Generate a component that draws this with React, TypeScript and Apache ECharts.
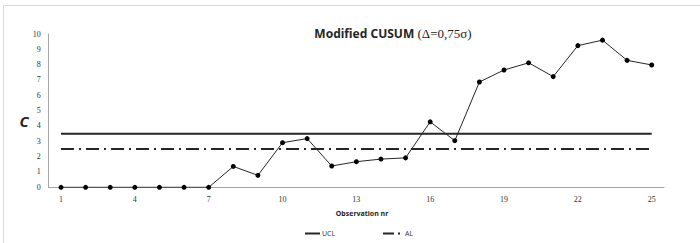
import React, { useEffect, useRef } from "react";
import * as echarts from "echarts";

const observations: string[] = Array.from({ length: 25 }, (_, i) => String(i + 1));
const cusumValues: number[] = [
  0, 0, 0, 0, 0, 0, 0, 1.36, 0.78, 2.91, 3.18, 1.39, 1.67, 1.84, 1.92,
  4.27, 3.04, 6.87, 7.65, 8.12, 7.22, 9.24, 9.6, 8.28, 7.98,
];
const uclValue = 3.5;
const alValue = 2.5;
const yTicks = { min: 0, max: 10, interval: 1 };
const legendNames = ["UCL", "AL"];

export default function App() {
  const ref = useRef<HTMLDivElement>(null);
  useEffect(() => {
    if (!ref.current) return;
    const chart = echarts.init(ref.current, undefined, { renderer: "svg" });
    const serif = "'Liberation Serif', 'DejaVu Serif', serif";
    const sans = "'Noto Sans', 'Liberation Sans', sans-serif";
    const legendY = 233.5;
    chart.setOption({
      animation: false,
      backgroundColor: "#ffffff",
      grid: { left: 48.7, right: 36, top: 34, bottom: 55.7, containLabel: false },
      xAxis: {
        type: "category",
        data: observations,
        boundaryGap: true,
        axisLine: { show: true, lineStyle: { color: "#a6a6a6", width: 1 } },
        axisTick: { show: false },
        axisLabel: {
          interval: 2,
          margin: 8,
          fontFamily: serif,
          fontSize: 8,
          color: "#333333",
        },
        splitLine: { show: false },
      },
      yAxis: {
        type: "value",
        min: yTicks.min,
        max: yTicks.max,
        interval: yTicks.interval,
        axisLine: { show: true, lineStyle: { color: "#a6a6a6", width: 1 } },
        axisTick: { show: false },
        axisLabel: { margin: 8, fontFamily: serif, fontSize: 8, color: "#333333" },
        splitLine: { show: false },
      },
      graphic: [
        {
          type: "rect",
          shape: { x: 3.5, y: 5.5, width: 720, height: 260 },
          style: { fill: "none", stroke: "#d9d9d9", lineWidth: 1 },
          silent: true,
        },
        {
          type: "text",
          x: 393,
          y: 33,
          style: {
            text: "{b|Modified CUSUM} {s|(Δ=0,75σ)}",
            align: "center",
            verticalAlign: "middle",
            rich: {
              b: { fontFamily: sans, fontWeight: "bold", fontSize: 12, fill: "#262626" },
              s: { fontFamily: serif, fontSize: 13, fill: "#262626" },
            },
          },
        },
        {
          type: "text",
          x: 24,
          y: 121,
          style: {
            text: "C",
            align: "center",
            verticalAlign: "middle",
            fontFamily: sans,
            fontWeight: "bold",
            fontStyle: "italic",
            fontSize: 15,
            fill: "#262626",
          },
        },
        {
          type: "text",
          x: 362,
          y: 213,
          style: {
            text: "Observation nr",
            align: "center",
            verticalAlign: "middle",
            fontFamily: sans,
            fontWeight: "bold",
            fontSize: 7,
            fill: "#262626",
          },
        },
        {
          type: "line",
          shape: { x1: 305, y1: legendY, x2: 320, y2: legendY },
          style: { stroke: "#262626", lineWidth: 2 },
        },
        {
          type: "text",
          x: 322,
          y: legendY,
          style: {
            text: legendNames[0],
            verticalAlign: "middle",
            fontFamily: sans,
            fontSize: 7,
            fill: "#404040",
          },
        },
        {
          type: "line",
          shape: { x1: 383, y1: legendY, x2: 400, y2: legendY },
          style: { stroke: "#262626", lineWidth: 2, lineDash: [11, 4, 2, 20] },
        },
        {
          type: "text",
          x: 405,
          y: legendY,
          style: {
            text: legendNames[1],
            verticalAlign: "middle",
            fontFamily: sans,
            fontSize: 7,
            fill: "#404040",
          },
        },
      ],
      series: [
        {
          name: "C",
          type: "line",
          data: cusumValues,
          symbol: "circle",
          symbolSize: 5,
          lineStyle: { color: "#262626", width: 1 },
          itemStyle: { color: "#000000" },
          z: 5,
        },
        {
          name: legendNames[0],
          type: "line",
          data: observations.map(() => uclValue),
          symbol: "none",
          lineStyle: { color: "#262626", width: 2 },
          itemStyle: { color: "#262626" },
        },
        {
          name: legendNames[1],
          type: "line",
          data: observations.map(() => alValue),
          symbol: "none",
          lineStyle: { color: "#262626", width: 2, type: [13, 5, 2, 5] },
          itemStyle: { color: "#262626" },
        },
      ],
    });
    return () => chart.dispose();
  }, []);
  return (
    <div
      ref={ref}
      style={{ position: "fixed", left: 0, top: 0, width: 700, height: 243 }}
    />
  );
}
